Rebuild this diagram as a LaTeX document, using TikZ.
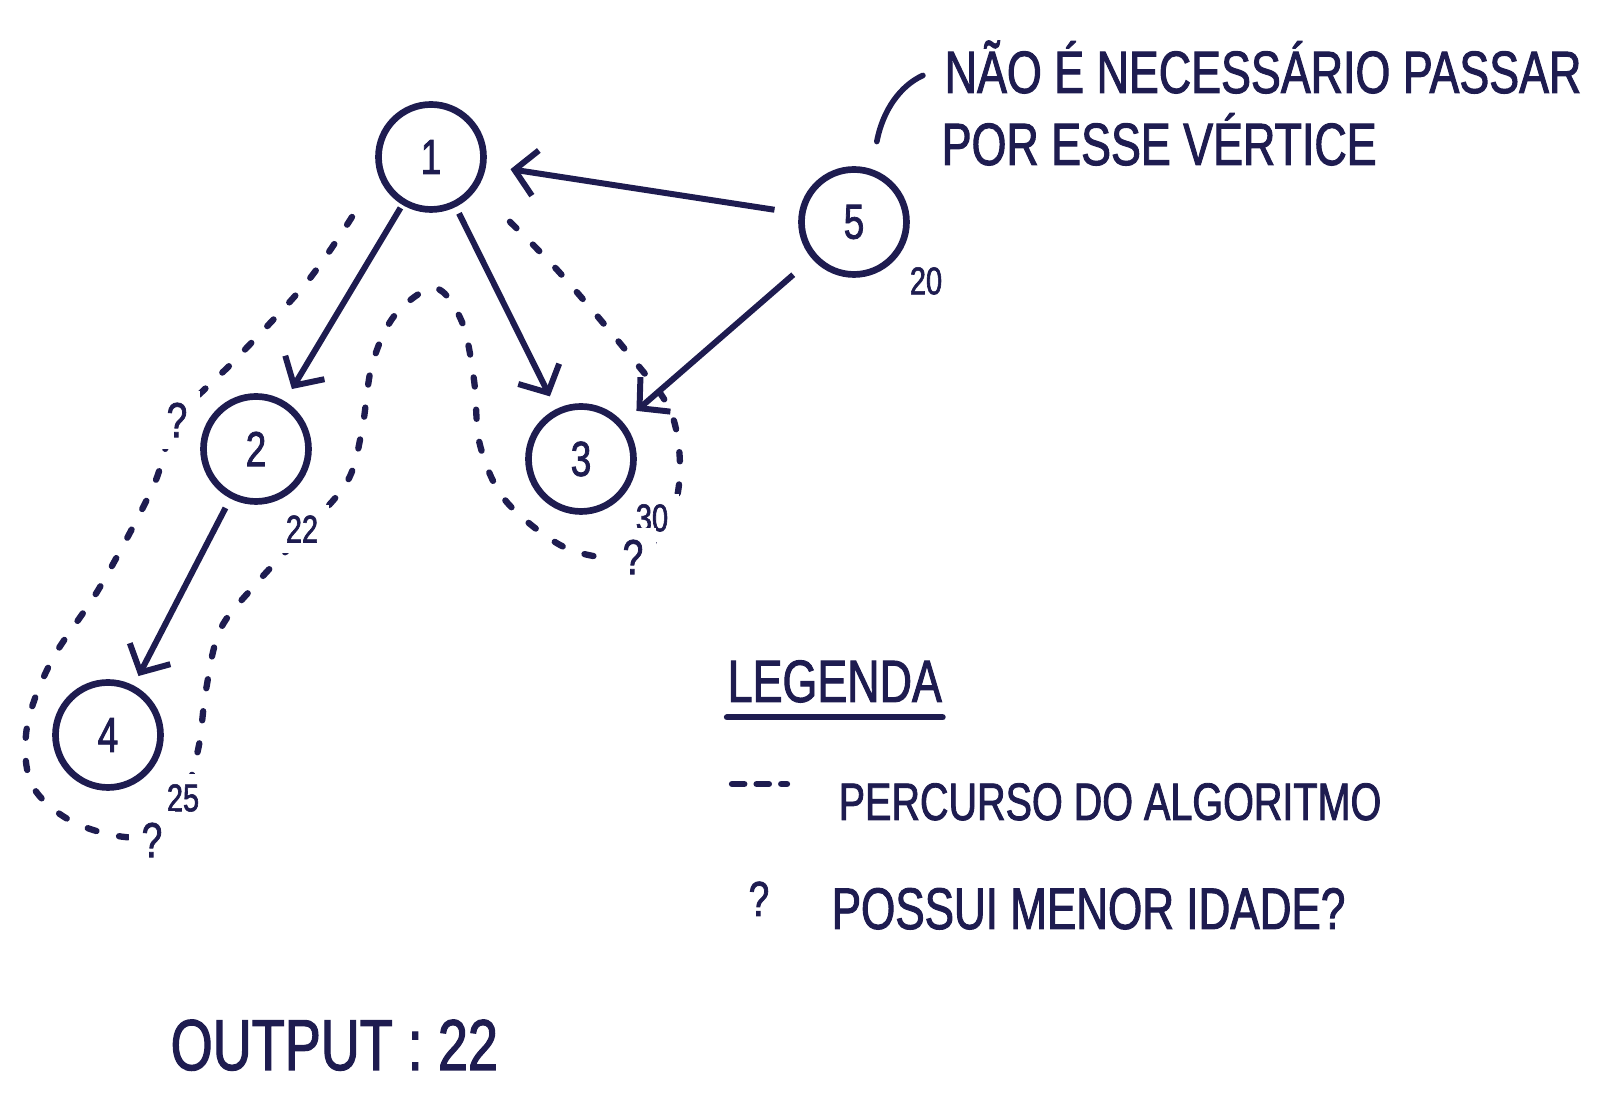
\documentclass[tikz,border=0pt]{standalone}
\usepackage{fontspec}
\newfontfamily\hand{Liberation Sans}[FakeStretch=0.75,FakeBold=1.6]
\usetikzlibrary{arrows.meta}
\definecolor{ink}{RGB}{30,28,80}
\begin{document}
\begin{tikzpicture}[>={Straight Barb[length=6pt,width=13pt]},
  vertex/.style={circle, draw=ink, line width=1.9pt, minimum size=1.05cm, inner sep=0pt, text=ink, font=\hand\fontsize{14}{16}\selectfont},
  weight/.style={text=ink, fill=white, inner sep=3pt, font=\hand\fontsize{11}{13}\selectfont},
  ask/.style={text=ink, fill=white, inner sep=3.5pt, font=\hand\fontsize{14}{16}\selectfont},
  note/.style={text=ink, anchor=base west, inner sep=0pt, font=\hand\fontsize{17}{20}\selectfont},
  edge/.style={draw=ink, line width=1.7pt, ->},
  route/.style={draw=ink, line width=1.8pt, line cap=round, dash pattern=on 2.6pt off 6.6pt}]
\useasboundingbox (0,0) rectangle (16.18,11);
\draw[route] plot[smooth, tension=0.55] coordinates {
  (3.52,8.83) (3.07,8.18) (2.37,7.42) (1.77,6.80) (1.53,6.13) (1.00,5.13) (0.52,4.40)
  (0.27,3.73) (0.32,3.15) (0.75,2.77) (1.40,2.63) (1.80,2.95) (1.98,3.50) (2.06,4.10)
  (2.20,4.70) (2.55,5.15) (3.02,5.66) (3.47,6.18) (3.62,6.70) (3.72,7.35) (3.95,7.85)
  (4.35,8.12) (4.62,7.78) (4.74,7.20) (4.80,6.55) (5.05,6.00) (5.60,5.55) (6.10,5.42)
  (6.45,5.50) (6.72,5.85) (6.80,6.35) (6.70,6.90) (6.32,7.42) (5.60,8.27) (5.03,8.85)};
\node[vertex] (n1) at (4.31,9.43) {1};
\node[vertex] (n5) at (8.54,8.78) {5};
\node[vertex] (n2) at (2.56,6.51) {2};
\node[vertex] (n3) at (5.81,6.41) {3};
\node[vertex] (n4) at (1.08,3.65) {4};
\node[weight] (w5) at (9.26,8.19) {20};
\node[weight] (w2) at (3.02,5.71) {22};
\node[weight] (w3) at (6.52,5.82) {30};
\node[weight] (w4) at (1.83,3.02) {25};
\node[ask] (q2) at (1.77,6.80) {?};
\node[ask] (q4) at (1.52,2.60) {?};
\node[ask] (q3) at (6.33,5.43) {?};
\draw[edge, shorten <=7pt, shorten >=7pt] (n5) -- (n1);
\draw[edge, shorten <=1pt, shorten >=4pt] (n1) -- (n2);
\draw[edge, shorten <=2pt, shorten >=4pt] (n1) -- (n3);
\draw[edge, shorten <=7pt, shorten >=5pt] (n5) -- (n3);
\draw[edge, shorten <=3pt, shorten >=3pt] (n2) -- (n4);
\node[note] (note1) at (9.44,10.07) {NÃO É NECESSÁRIO PASSAR};
\node[note] (note2) at (9.41,9.35) {POR ESSE VÉRTICE};
\draw[ink, line width=1.6pt, line cap=round] ([xshift=6.5pt,yshift=7pt]n5.north) .. controls +(0.06,0.32) and +(-0.22,-0.1) .. ([xshift=-6pt,yshift=5pt]note1.base west);
\node[note] (legend) at (7.27,3.98) {LEGENDA};
\draw[ink, line width=1.8pt, line cap=round] ([yshift=-4pt]legend.south west) -- ([yshift=-4pt]legend.south east);
\coordinate (k1) at (7.32,3.16);
\coordinate (k2) at (7.87,3.16);
\draw[route, dash pattern=on 3.5pt off 3.5pt] (k1) -- (k2);
\node[note, font=\hand\fontsize{15}{18}\selectfont] (walk) at (8.38,2.80) {PERCURSO DO ALGORITMO};
\node[note, font=\hand\fontsize{14}{16}\selectfont] (qkey) at (7.48,1.84) {?};
\node[note, font=\hand\fontsize{16.7}{20}\selectfont] (age) at (8.31,1.71) {POSSUI MENOR IDADE?};
\node[note, font=\hand\fontsize{20.5}{24}\selectfont] (output) at (1.70,0.30) {OUTPUT : 22};
\end{tikzpicture}
\end{document}
